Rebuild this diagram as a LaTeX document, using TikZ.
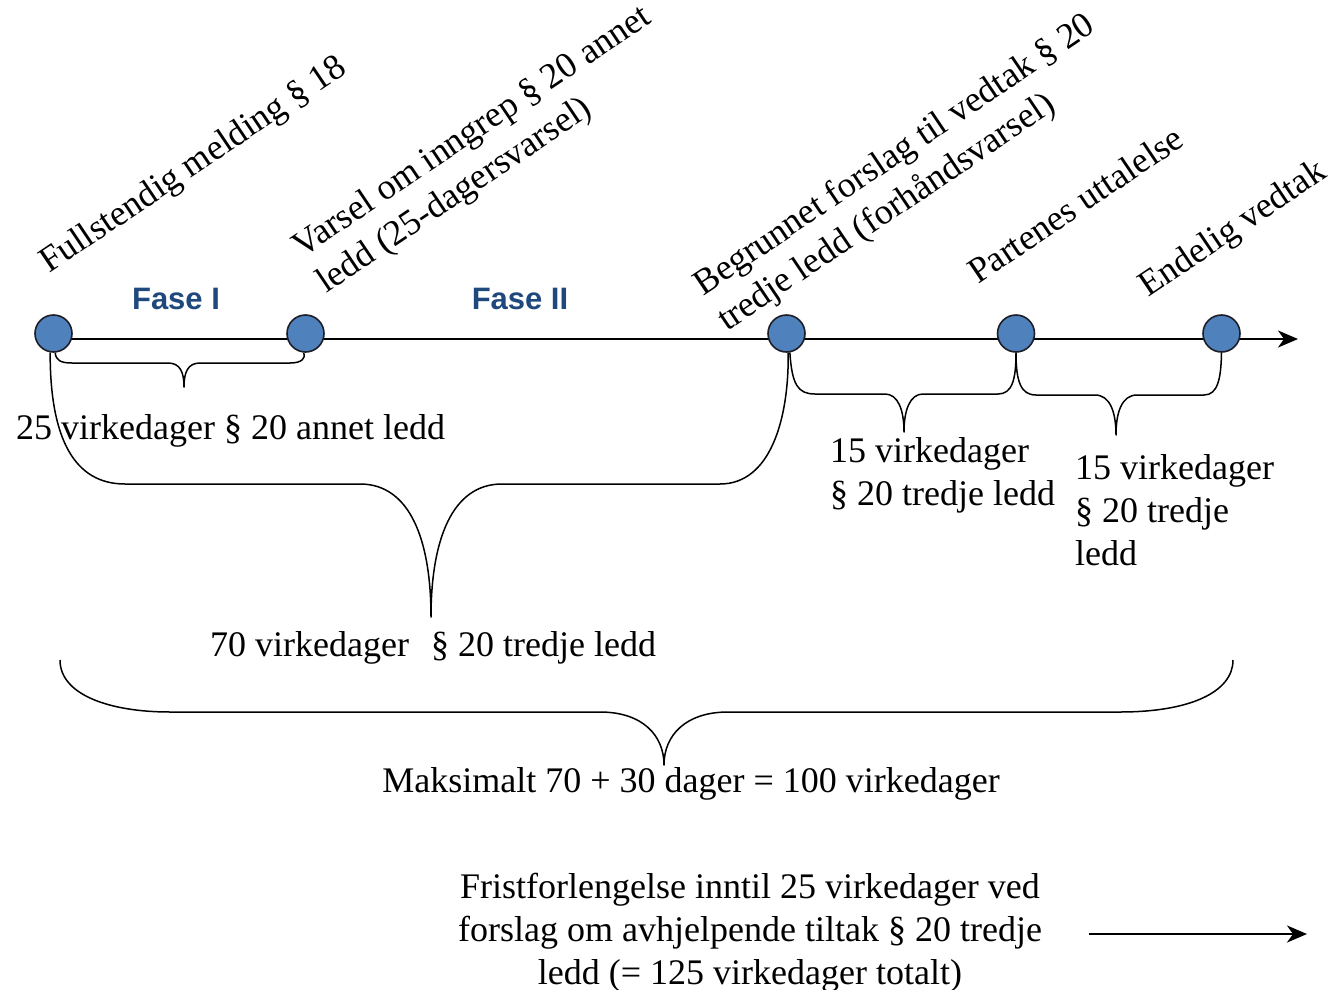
\documentclass[tikz,border=0pt]{standalone}
\usepackage{fontspec}
\setmainfont{Liberation Serif}
\newfontfamily\arialfont{Liberation Sans}
\usetikzlibrary{arrows.meta}
\definecolor{dotfill}{RGB}{79,129,189}
\definecolor{dotline}{RGB}{30,30,40}
\definecolor{fasecol}{RGB}{31,73,125}
\tikzset{
  dot/.style={circle, minimum size=37pt, inner sep=0pt, fill=dotfill, draw=dotline, line width=1.6pt},
  txt/.style={inner sep=0pt, font=\fontsize{36}{43}\selectfont},
  rtxt/.style={txt, rotate=34, anchor=base west, align=left},
  fase/.style={inner sep=0pt, text=fasecol, font=\arialfont\bfseries\fontsize{31}{37}\selectfont},
  brace/.style={line width=1.5pt, line join=round},
  mainline/.style={line width=2.4pt, -{Stealth[length=20pt,width=17pt,inset=6pt]}},
}
\begin{document}
\begin{tikzpicture}[x=1pt,y=-1pt]
\useasboundingbox (0,0) rectangle (1328,990);
% main axis
\coordinate (ls) at (54,339);
\coordinate (le) at (1298,339);
\draw[mainline] (ls) -- (le);
% milestones
\node[dot] (c1) at (53.5,333.5) {};
\node[dot] (c2) at (305.5,333.5) {};
\node[dot] (c3) at (786.5,333.5) {};
\node[dot] (c4) at (1016,333.5) {};
\node[dot] (c5) at (1221.5,333.5) {};
% rotated labels
\node[rtxt] (l1) at (49,274) {Fullstendig melding § 18};
\node[rtxt] (l2) at (326,294) {Varsel om inngrep § 20 annet\\ledd (25-dagersvarsel)};
\node[rtxt] (l3) at (727,332) {Begrunnet forslag til vedtak § 20\\tredje ledd (forhåndsvarsel)};
\node[rtxt] (l4) at (978,285) {Partenes uttalelse};
\node[rtxt] (l5) at (1148,298) {Endelig vedtak};
% phases
\node[fase] (f1) at (176,299) {Fase I};
\node[fase] (f2) at (520,299) {Fase II};
% brace 25 days
\draw[brace] (c1.-85) .. controls (56,360) and (60,363) .. (72,363) -- (168,363)
  .. controls (180,363) and (184,372) .. (184,387)
  .. controls (184,372) and (188,363) .. (200,363) -- (290,363)
  .. controls (302,363) and (306,358) .. (c2.-95);
% brace 70 days
\draw[brace] (c1.-100) .. controls (50,440) and (75,484) .. (125,484) -- (360,484)
  .. controls (410,484) and (431,540) .. (431,617)
  .. controls (431,540) and (452,484) .. (502,484) -- (720,484)
  .. controls (770,484) and (789,420) .. (c3.-85);
% brace 15 days (a)
\draw[brace] (c3.-80) .. controls (792,385) and (798,394) .. (815,394) -- (885,394)
  .. controls (898,394) and (904,410) .. (904,432)
  .. controls (904,410) and (910,394) .. (923,394) -- (998,394)
  .. controls (1012,394) and (1016,380) .. (c4.-90);
% brace 15 days (b)
\draw[brace] (c4.-90) .. controls (1016,382) and (1021,395) .. (1036,395) -- (1095,395)
  .. controls (1110,395) and (1116,412) .. (1116,435)
  .. controls (1116,412) and (1122,395) .. (1137,395) -- (1204,395)
  .. controls (1218,395) and (1221,378) .. (c5.-90);
% big brace
\coordinate (bl) at (60,660);
\coordinate (br) at (1233,660);
\draw[brace] (bl) .. controls (60,695) and (110,712) .. (170,712) -- (600,712)
  .. controls (642,712) and (664,735) .. (664,765)
  .. controls (664,735) and (686,712) .. (728,712) -- (1120,712)
  .. controls (1190,712) and (1233,692) .. (br);
% horizontal labels
\node[txt, anchor=west] (t25) at (16,431) {25 virkedager § 20 annet ledd};
\node[txt, anchor=west, align=left] (t15a) at (830,475.5) {15 virkedager\\§ 20 tredje ledd};
\node[txt, anchor=west, align=left] (t15b) at (1075,510.5) {15 virkedager\\§ 20 tredje\\ledd};
\node[txt, anchor=west] (t70) at (210,648) {70 virkedager\hspace{13pt} § 20 tredje ledd};
\node[txt] (tmax) at (691,784) {Maksimalt 70 + 30 dager = 100 virkedager};
\node[txt, align=center] (tfr) at (750,933) {Fristforlengelse inntil 25 virkedager ved\\forslag om avhjelpende tiltak § 20 tredje\\ledd (= 125 virkedager totalt)};
% extension arrow
\coordinate (fa) at (1089,934);
\coordinate (fb) at (1307,934);
\draw[mainline] (fa) -- (fb);
\end{tikzpicture}
\end{document}
